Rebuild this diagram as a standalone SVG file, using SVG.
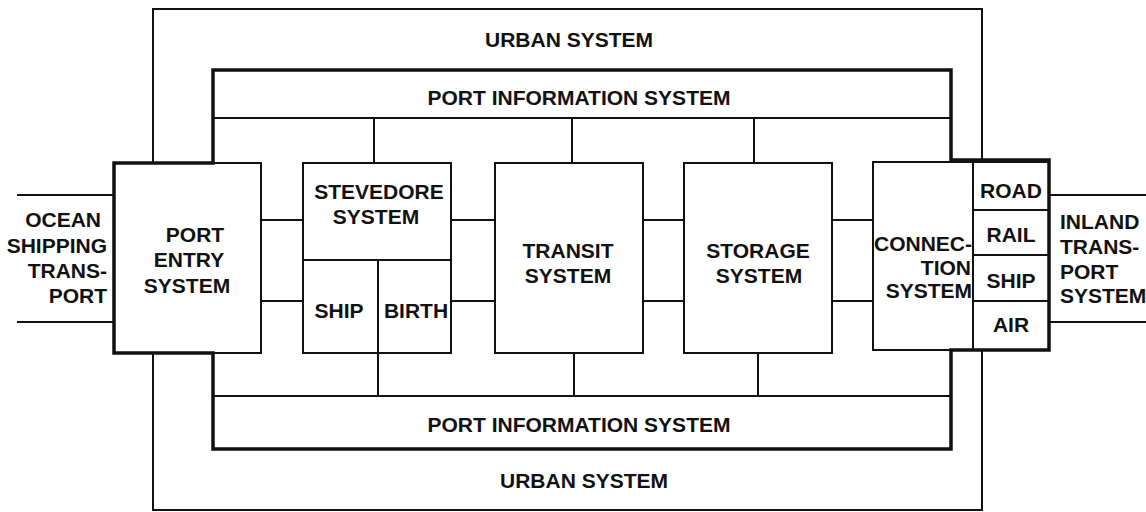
<svg xmlns="http://www.w3.org/2000/svg" width="1146" height="512" viewBox="0 0 1146 512">
<style>
.thin{fill:none;stroke:#111;stroke-width:2}
.thick{fill:none;stroke:#111;stroke-width:3.5;stroke-linejoin:miter}
text{font-family:"Liberation Sans",Arial,sans-serif;font-weight:bold;font-size:21px;fill:#111}
.c{text-anchor:middle}
.e{text-anchor:end}
</style>
<rect width="1146" height="512" fill="#fff"/>
<g id="urban-system">
<path class="thin" d="M153,163 V9 H982 V160"/>
<path class="thin" d="M153,353 V510 H982 V350"/>
<text class="c" x="569" y="47">URBAN SYSTEM</text>
<text class="c" x="584" y="488">URBAN SYSTEM</text>
</g>
<g id="port-boundary">
<path class="thick" d="M114,163 H213 V70 H951 V160 H1049 V350 H951 V449 H213 V353 H114 Z"/>
</g>
<g id="port-information-top">
<line class="thin" x1="213" y1="118" x2="951" y2="118"/>
<text class="c" x="579" y="105">PORT INFORMATION SYSTEM</text>
</g>
<g id="port-information-bottom">
<line class="thin" x1="213" y1="396" x2="951" y2="396"/>
<text class="c" x="579" y="432">PORT INFORMATION SYSTEM</text>
</g>
<g id="ocean-shipping">
<text class="e" x="101" y="227">OCEAN</text>
<text class="e" x="107" y="253">SHIPPING</text>
<text class="e" x="107" y="278">TRANS-</text>
<text class="e" x="107" y="303">PORT</text>
</g>
<g id="port-entry">
<rect class="thin" x="114" y="163" width="147" height="190"/>
<text class="c" x="195" y="242">PORT</text>
<text class="c" x="189" y="267">ENTRY</text>
<text class="c" x="187" y="293">SYSTEM</text>
</g>
<g id="stevedore">
<rect class="thin" x="303" y="163" width="148" height="190"/>
<line class="thin" x1="303" y1="260" x2="451" y2="260"/>
<line class="thin" x1="378" y1="260" x2="378" y2="353"/>
<text class="c" x="379" y="199">STEVEDORE</text>
<text class="c" x="376" y="224">SYSTEM</text>
<text class="c" x="339" y="318">SHIP</text>
<text class="c" x="416" y="318">BIRTH</text>
</g>
<g id="transit">
<rect class="thin" x="495" y="163" width="148" height="190"/>
<text class="c" x="568" y="258">TRANSIT</text>
<text class="c" x="568" y="283">SYSTEM</text>
</g>
<g id="storage">
<rect class="thin" x="684" y="163" width="148" height="190"/>
<text class="c" x="758" y="258">STORAGE</text>
<text class="c" x="759" y="283">SYSTEM</text>
</g>
<g id="connection">
<rect class="thin" x="873" y="162" width="100" height="188"/>
<text x="874" y="251">CONNEC-</text>
<text class="e" x="971" y="275">TION</text>
<text class="e" x="972" y="298">SYSTEM</text>
</g>
<g id="modes">
<rect class="thin" x="973" y="162" width="76" height="188"/>
<line class="thin" x1="973" y1="210" x2="1049" y2="210"/>
<line class="thin" x1="973" y1="255" x2="1049" y2="255"/>
<line class="thin" x1="973" y1="301" x2="1049" y2="301"/>
<text class="c" x="1011" y="198">ROAD</text>
<text class="c" x="1011" y="242">RAIL</text>
<text class="c" x="1011" y="288">SHIP</text>
<text class="c" x="1011" y="332">AIR</text>
</g>
<g id="inland-transport">
<text x="1060" y="229">INLAND</text>
<text x="1060" y="254">TRANS-</text>
<text x="1060" y="279">PORT</text>
<text x="1060" y="303">SYSTEM</text>
</g>
<g id="connectors">
<line class="thin" x1="17" y1="195" x2="114" y2="195"/>
<line class="thin" x1="17" y1="322" x2="114" y2="322"/>
<line class="thin" x1="1049" y1="195" x2="1146" y2="195"/>
<line class="thin" x1="1049" y1="322" x2="1146" y2="322"/>
<line class="thin" x1="261" y1="220" x2="303" y2="220"/>
<line class="thin" x1="261" y1="301" x2="303" y2="301"/>
<line class="thin" x1="451" y1="220" x2="495" y2="220"/>
<line class="thin" x1="451" y1="301" x2="495" y2="301"/>
<line class="thin" x1="643" y1="220" x2="684" y2="220"/>
<line class="thin" x1="643" y1="301" x2="684" y2="301"/>
<line class="thin" x1="832" y1="220" x2="873" y2="220"/>
<line class="thin" x1="832" y1="301" x2="873" y2="301"/>
<line class="thin" x1="374" y1="118" x2="374" y2="163"/>
<line class="thin" x1="572" y1="118" x2="572" y2="163"/>
<line class="thin" x1="754" y1="118" x2="754" y2="163"/>
<line class="thin" x1="378" y1="353" x2="378" y2="396"/>
<line class="thin" x1="574" y1="353" x2="574" y2="396"/>
<line class="thin" x1="758" y1="353" x2="758" y2="396"/>
</g>
</svg>
